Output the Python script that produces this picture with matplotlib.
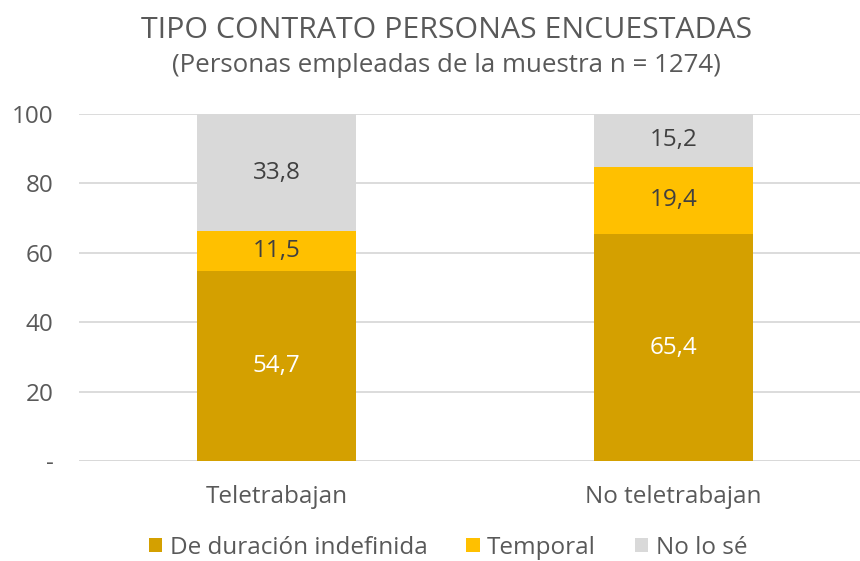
import matplotlib
matplotlib.use("Agg")
import matplotlib.pyplot as plt
import numpy as np

plt.rcParams['font.family'] = ['Open Sans', 'DejaVu Sans']

categories = ["Teletrabajan", "No teletrabajan"]
series_names = ["De duración indefinida", "Temporal", "No lo sé"]
indefinida = [54.7, 65.4]
temporal = [11.5, 19.4]
no_lo_se = [33.8, 15.2]
yticks = [0, 20, 40, 60, 80, 100]
ytick_labels = ["-", "20", "40", "60", "80", "100"]

colors = ["#D4A000", "#FFC000", "#D9D9D9"]
label_colors = ["white", "#404040", "#404040"]

fig = plt.figure(figsize=(8.6, 5.61), dpi=100)
ax = fig.add_axes([78.5/860, 100/561, 793/860, 347/561])

x = np.arange(len(categories))
bottom = np.zeros(len(categories))
handles = []
for vals, col, lc, name in zip([indefinida, temporal, no_lo_se], colors, label_colors, series_names):
    bars = ax.bar(x, vals, width=0.4, bottom=bottom, color=col, zorder=3, label=name)
    handles.append(bars)
    for xi, v, b in zip(x, vals, bottom):
        ax.text(xi, b + v / 2, f"{v:.1f}".replace(".", ","), ha="center", va="center",
                fontsize=17.5, color=lc, zorder=4)
    bottom = bottom + np.array(vals)

ax.set_xlim(-0.5, 1.5)
ax.set_ylim(0, 100)
ax.set_yticks(yticks)
ax.set_yticklabels(ytick_labels)
ax.set_xticks(x)
ax.set_xticklabels(categories)
ax.yaxis.grid(True, color="#D9D9D9", linewidth=1.3, zorder=0)
for s in ax.spines.values():
    s.set_visible(False)
ax.tick_params(axis="both", length=0, labelsize=17.5, colors="#595959")
ax.tick_params(axis="y", pad=18)
ax.tick_params(axis="x", pad=17)
ax.axhline(0, color="#D9D9D9", linewidth=1.3, zorder=2)

fig.text(0.519, 0.946, "TIPO CONTRATO PERSONAS ENCUESTADAS", ha="center", va="center",
         fontsize=21.8, color="#595959")
fig.text(0.519, 0.884, "(Personas empleadas de la muestra n = 1274)", ha="center", va="center",
         fontsize=18.6, color="#595959")

fig.legend(handles=handles, loc="center", bbox_to_anchor=(0.521, 0.024), ncol=3, frameon=False,
           fontsize=17.5, labelcolor="#595959", handlelength=0.55, handleheight=0.55,
           handletextpad=0.3, columnspacing=1.6)

fig.savefig("out.png", dpi=100)
